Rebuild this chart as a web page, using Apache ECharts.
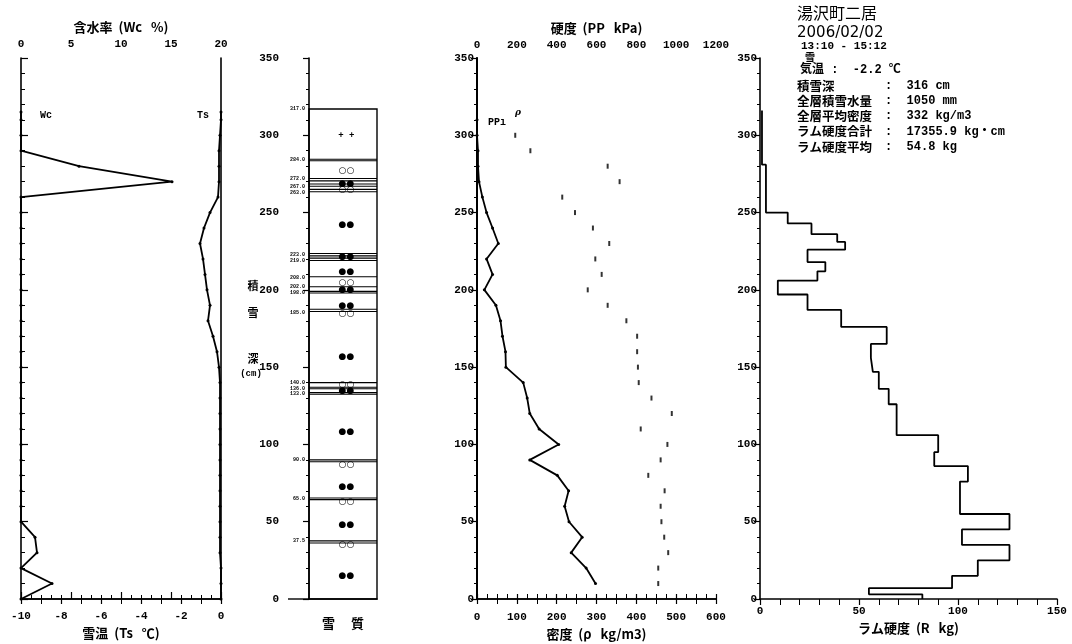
<!DOCTYPE html>
<html>
<head>
<meta charset="utf-8">
<script src="https://cdn.jsdelivr.net/npm/echarts@6/dist/echarts.min.js"></script>
<style>
  html, body { margin: 0; padding: 0; background: #fff; }
  #main { width: 1072px; height: 644px; }
</style>
</head>
<body>
<div id="main"></div>
<script>
// snow temperature / water content profile (cm from ground)
const profileHeights = [315, 310, 300, 290, 280, 270, 260, 250, 240, 230, 220, 210, 200, 190, 180, 170, 160,
  150, 140, 130, 120, 110, 100, 90, 80, 70, 60, 50, 40, 30, 20, 10, 0];
const wcValues = [0, 0, 0, 0, 5.8, 15.1, 0, 0, 0, 0, 0, 0, 0, 0, 0, 0, 0,
  0, 0, 0, 0, 0, 0, 0, 0, 0, 0, 0, 1.4, 1.6, 0, 3.1, 0];
const tsValues = [0, 0, -0.05, -0.1, -0.1, -0.1, -0.15, -0.55, -0.85, -1.05, -0.9, -0.8, -0.7, -0.55, -0.65, -0.4, -0.2,
  -0.1, -0.05, -0.05, -0.05, -0.05, -0.05, -0.05, -0.05, -0.05, -0.05, -0.05, -0.05, -0.05, 0, 0, 0];

// snow layers
const snowTop = 317;
const layerLabels = [317, 284, 272, 267, 263, 223, 219, 208, 202, 198, 185, 140, 136, 133, 90, 65, 37.5];
const layerLines = [284.5, 283.5, 272, 270.5, 268.5, 267, 265, 263.5, 223.5, 222, 220.5, 219, 208.5,
  202, 199, 198, 187.5, 186, 140, 137, 136, 133.5, 132.5, 90, 88.8, 65.3, 64.3, 37.6, 36.2];
const grainHeights = [300, 277, 268.8, 264.8, 242, 221.2, 212, 204.5, 200.2, 190, 184.5, 157, 138.5, 134.6,
  108, 87, 73, 63, 48, 35, 15];
const grainMarks = ['+ +', '○○', '●●', '○○', '●●', '●●', '●●', '○○', '●●', '●●', '○○', '●●', '○○', '●●',
  '●●', '○○', '●●', '○○', '●●', '○○', '●●'];

// density (kg/m3) and push-pull hardness (kPa)
const densityHeights = [300, 290, 280, 270, 260, 250, 240, 230, 220, 210, 200, 190, 180, 170, 160, 150,
  140, 130, 120, 110, 100, 90, 80, 70, 60, 50, 40, 30, 20, 10];
const densityValues = [96, 134, 328, 358, 214, 246, 291, 332, 297, 313, 278, 328, 375, 402, 402, 404,
  406, 438, 489, 411, 478, 461, 430, 471, 461, 463, 470, 480, 455, 455];
const ppHeights = [310, 300, 290, 280, 270, 260, 250, 240, 230, 220, 210, 200, 190, 180, 170, 160, 150,
  140, 130, 120, 110, 100, 90, 80, 70, 60, 50, 40, 30, 20, 10];
const ppValues = [0, 0, 5, 5, 10, 27, 48, 78, 107, 48, 78, 37, 95, 118, 128, 143, 145,
  232, 252, 265, 312, 410, 265, 403, 460, 440, 462, 528, 473, 548, 595];

// ram hardness (kg): layer bounds top->bottom, one value per layer
const ramBounds = [316, 281, 250, 243, 236, 231, 226, 218, 212, 206, 197, 187, 176, 165, 156, 147,
  136, 126, 106, 95, 86, 76, 55, 45, 35, 25, 15, 7, 3, 0];
const ramValues = [1, 3, 14, 26, 39, 43, 24, 33, 29, 9, 24, 41, 64, 56, 57, 60,
  65, 69, 90, 88, 105, 101, 126, 102, 126, 110, 97, 55, 82];

const infoLabels = ['積雪深', '全層積雪水量', '全層平均密度', 'ラム硬度合計', 'ラム硬度平均'];
const infoValues = [':  316 cm', ':  1050 mm', ':  332 kg/m3', ':  17355.9 kg・cm', ':  54.8 kg'];

const ink = '#000';
const NUM = "'Liberation Mono','Noto Sans CJK JP',monospace";
const JP = "'Noto Sans CJK JP',sans-serif";
const tickLabel = { color: ink, fontFamily: NUM, fontWeight: 'bold', fontSize: 11, formatter: v => String(v) };
const nameStyle = { color: ink, fontFamily: JP, fontWeight: 'bold', fontSize: 13 };
const axLine = { show: true, lineStyle: { color: ink, width: 1.6 } };
const tick = (len) => ({ show: true, length: len, lineStyle: { color: ink, width: 1.2 } });
const minor = (n, len) => ({ show: true, splitNumber: n, length: len, lineStyle: { color: ink, width: 1 } });
const noSplit = { show: false };

function heightAxis(grid, extra) {
  return Object.assign({
    gridIndex: grid, type: 'value', min: 0, max: 350, interval: 50,
    axisLine: axLine, axisTick: tick(6), minorTick: minor(5, 3),
    splitLine: noSplit, minorSplitLine: noSplit,
    axisLabel: Object.assign({}, tickLabel, { margin: 3 })
  }, extra);
}

const zip = (xs, ys) => xs.map((x, i) => [x, ys[i]]);
const ramPoints = [];
ramValues.forEach((r, i) => { ramPoints.push([r, ramBounds[i]], [r, ramBounds[i + 1]]); });

const chart = echarts.init(document.getElementById('main'));

const panel = (left, width) => ({ left: left, top: 58, width: width, height: 541,
  containLabel: false, outerBoundsMode: 'none' });

chart.setOption({
  backgroundColor: '#fff',
  animation: false,
  grid: [panel(21, 200), panel(309, 68), panel(477, 239), panel(760, 297)],
  xAxis: [
    { gridIndex: 0, type: 'value', position: 'bottom', min: -10, max: 0, interval: 2,
      axisLine: axLine, axisTick: tick(5), minorTick: minor(2, 5), splitLine: noSplit, minorSplitLine: noSplit,
      axisLabel: Object.assign({}, tickLabel, { margin: 12 }),
      name: '雪温  (Ts   ℃)', nameLocation: 'middle', nameGap: 25, nameTextStyle: nameStyle },
    { gridIndex: 0, type: 'value', position: 'top', min: 0, max: 20, interval: 5,
      axisLine: axLine, axisTick: tick(7), minorTick: minor(5, 4), splitLine: noSplit, minorSplitLine: noSplit,
      axisLabel: Object.assign({}, tickLabel, { margin: 8 }),
      name: '含水率  (Wc   %)', nameLocation: 'middle', nameGap: 24, nameTextStyle: nameStyle },
    { gridIndex: 1, type: 'value', min: 0, max: 1,
      axisLine: axLine, axisTick: noSplit, axisLabel: noSplit, splitLine: noSplit,
      name: '雪　 質', nameLocation: 'middle', nameGap: 18, nameTextStyle: nameStyle },
    { gridIndex: 2, type: 'value', position: 'bottom', min: 0, max: 600, interval: 100,
      axisLine: axLine, axisTick: tick(5), minorTick: minor(2, 5), splitLine: noSplit, minorSplitLine: noSplit,
      axisLabel: Object.assign({}, tickLabel, { margin: 13 }),
      name: '密度  (ρ   kg/m3)', nameLocation: 'middle', nameGap: 28, nameTextStyle: nameStyle },
    { gridIndex: 2, type: 'value', position: 'top', min: 0, max: 1200, interval: 200,
      axisLine: axLine, axisTick: tick(5), minorTick: minor(4, 5), splitLine: noSplit, minorSplitLine: noSplit,
      axisLabel: Object.assign({}, tickLabel, { margin: 7 }),
      name: '硬度  (PP   kPa)', nameLocation: 'middle', nameGap: 23, nameTextStyle: nameStyle },
    { gridIndex: 3, type: 'value', position: 'bottom', min: 0, max: 150, interval: 50,
      axisLine: axLine, axisTick: tick(6), minorTick: minor(5, 6), splitLine: noSplit, minorSplitLine: noSplit,
      axisLabel: Object.assign({}, tickLabel, { margin: 7 }),
      name: 'ラム硬度  (R   kg)', nameLocation: 'middle', nameGap: 22, nameTextStyle: nameStyle }
  ],
  yAxis: [
    heightAxis(0, { position: 'left', axisTick: noSplit, minorTick: noSplit, axisLabel: noSplit }),
    heightAxis(0, { position: 'right', axisLabel: noSplit, axisTick: tick(7), minorTick: minor(5, 4) }),
    heightAxis(1, { position: 'left', offset: 27 }),
    heightAxis(2, { position: 'left' }),
    heightAxis(2, { position: 'right', axisTick: noSplit, minorTick: noSplit, axisLabel: noSplit,
      axisLine: { show: true, lineStyle: { color: ink, width: 2 } } }),
    heightAxis(3, { position: 'left' })
  ],
  series: [
    { name: 'Wc', type: 'line', xAxisIndex: 1, yAxisIndex: 0, data: zip(wcValues, profileHeights),
      symbol: 'circle', symbolSize: 3, itemStyle: { color: ink }, lineStyle: { color: ink, width: 1.8 } },
    { name: 'Ts', type: 'line', xAxisIndex: 0, yAxisIndex: 0, data: zip(tsValues, profileHeights),
      symbol: 'circle', symbolSize: 3, itemStyle: { color: ink }, lineStyle: { color: ink, width: 1.8 } },
    { name: 'column', type: 'custom', xAxisIndex: 2, yAxisIndex: 2, data: [[0, snowTop]], encode: { x: 0, y: 1 },
      renderItem: (params, api) => {
        const a = api.coord([0, api.value(1)]), b = api.coord([1, 0]);
        return { type: 'group', children: [
          { type: 'rect', shape: { x: a[0], y: a[1], width: b[0] - a[0], height: b[1] - a[1] },
            style: { fill: 'none', stroke: ink, lineWidth: 1.4 } },
          // ground line reaching back to the depth axis
          { type: 'line', shape: { x1: a[0] - 21, y1: b[1], x2: a[0], y2: b[1] },
            style: { stroke: ink, lineWidth: 1.4 } }
        ] };
      } },
    { name: 'grains', type: 'custom', xAxisIndex: 2, yAxisIndex: 2, z: 2,
      data: grainHeights.map(h => [0.55, h]), encode: { x: 0, y: 1 },
      renderItem: (params, api) => {
        const p = api.coord([api.value(0), api.value(1)]);
        const mark = grainMarks[params.dataIndex];
        return { type: 'text', x: p[0], y: p[1],
          style: { text: mark, fill: ink, align: 'center', verticalAlign: 'middle',
            font: mark === '+ +' ? "bold 9px 'Liberation Mono'" : "9px 'DejaVu Sans'" } };
      } },
    { name: 'lines', type: 'custom', xAxisIndex: 2, yAxisIndex: 2, z: 3,
      data: layerLines.map(h => [0, h]), encode: { x: 0, y: 1 },
      renderItem: (params, api) => {
        const h = api.value(1);
        const a = api.coord([0, h]), b = api.coord([1, h]);
        return { type: 'line', shape: { x1: a[0], y1: a[1], x2: b[0], y2: b[1] },
          style: { stroke: ink, lineWidth: 1.1 } };
      } },
    { name: 'labels', type: 'custom', xAxisIndex: 2, yAxisIndex: 2,
      data: layerLabels.map(h => [0, h]), encode: { x: 0, y: 1 },
      renderItem: (params, api) => {
        const h = api.value(1);
        const a = api.coord([0, h]);
        return { type: 'text', x: a[0] - 4, y: a[1],
          style: { text: h.toFixed(1), fill: ink, align: 'right', verticalAlign: 'middle',
            font: "bold 5px 'Liberation Mono'" } };
      } },
    { name: 'ρ', type: 'scatter', xAxisIndex: 3, yAxisIndex: 3, data: zip(densityValues, densityHeights),
      symbol: 'rect', symbolSize: [2, 5], itemStyle: { color: ink } },
    { name: 'PP', type: 'line', xAxisIndex: 4, yAxisIndex: 3, data: zip(ppValues, ppHeights),
      symbol: 'circle', symbolSize: 3, itemStyle: { color: ink }, lineStyle: { color: ink, width: 1.8 } },
    { name: 'R', type: 'line', xAxisIndex: 5, yAxisIndex: 5, data: ramPoints,
      symbol: 'none', lineStyle: { color: ink, width: 1.8 } }
  ],
  graphic: [
    { type: 'text', x: 40, y: 115, style: { text: 'Wc', font: "bold 10px 'Liberation Mono'", fill: ink, verticalAlign: 'middle' } },
    { type: 'text', x: 197, y: 115, style: { text: 'Ts', font: "bold 10px 'Liberation Mono'", fill: ink, verticalAlign: 'middle' } },
    { type: 'text', x: 488, y: 122, style: { text: 'PPı', font: "bold 10px 'Liberation Mono'", fill: ink, verticalAlign: 'middle' } },
    { type: 'text', x: 515, y: 113, style: { text: 'ρ', font: "italic bold 9px 'DejaVu Serif'", fill: ink, verticalAlign: 'middle' } },
    { type: 'text', x: 253, y: 286, style: { text: '積', font: `bold 11px ${JP}`, fill: ink, align: 'center', verticalAlign: 'middle' } },
    { type: 'text', x: 253, y: 313, style: { text: '雪', font: `bold 11px ${JP}`, fill: ink, align: 'center', verticalAlign: 'middle' } },
    { type: 'text', x: 253, y: 359, style: { text: '深', font: `bold 11px ${JP}`, fill: ink, align: 'center', verticalAlign: 'middle' } },
    { type: 'text', x: 251, y: 374, style: { text: '(cm)', font: "bold 9px 'Liberation Mono'", fill: ink, align: 'center', verticalAlign: 'middle' } },
    { type: 'text', x: 797, y: 13, style: { text: '湯沢町二居', font: `16px ${JP}`, fill: ink, verticalAlign: 'middle' } },
    { type: 'text', x: 797, y: 33, style: { text: '2006/02/02', font: "15px 'DejaVu Sans'", fill: ink, verticalAlign: 'middle' } },
    { type: 'text', x: 801, y: 46, style: { text: '13:10 - 15:12', font: "bold 11px 'Liberation Mono'", fill: ink, verticalAlign: 'middle' } },
    { type: 'text', x: 805, y: 57, style: { text: '雪', font: `bold 10px ${JP}`, fill: ink, verticalAlign: 'middle' } },
    { type: 'text', x: 800, y: 70, style: { text: '気温 :  -2.2 ℃', font: `bold 12px ${NUM}`, fill: ink, verticalAlign: 'middle' } }
  ].concat(infoLabels.map((t, i) => ({
    type: 'text', x: 797, y: 86 + i * 15.2,
    style: { text: t, font: `bold 12.5px ${JP}`, fill: ink, verticalAlign: 'middle' }
  }))).concat(infoValues.map((t, i) => ({
    type: 'text', x: 885, y: 86 + i * 15.2,
    style: { text: t, font: `bold 12px ${NUM}`, fill: ink, verticalAlign: 'middle' }
  })))
});
</script>
</body>
</html>
